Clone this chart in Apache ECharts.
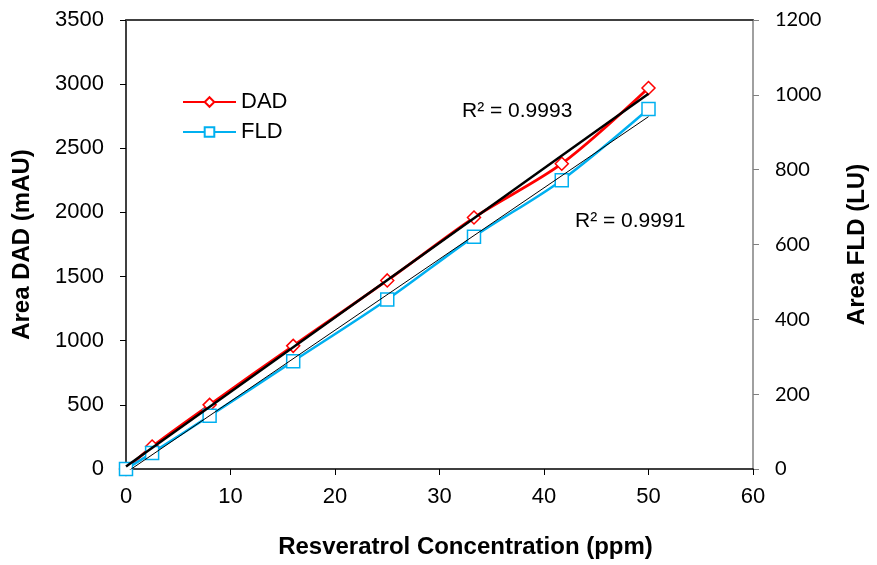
<!DOCTYPE html>
<html><head><meta charset="utf-8">
<script src="https://cdn.jsdelivr.net/npm/echarts@6/dist/echarts.min.js"></script>
<style>html,body{margin:0;padding:0;background:#fff}#c{width:877px;height:565px}</style>
</head><body><div id="c"></div>
<script>
const concentration = [0, 2.5, 8, 16, 25, 33.3, 41.7, 50];
const dadArea = [0, 175, 500, 960, 1470, 1960, 2380, 2970];
const fldArea = [0, 43, 142, 288, 453, 621, 772, 962];
const r2Labels = ['R\u00b2 = 0.9993', 'R\u00b2 = 0.9991'];
const xTicks = [0, 10, 20, 30, 40, 50, 60];

function fit(xs, ys) {
  const n = xs.length;
  const mx = xs.reduce((a, b) => a + b, 0) / n;
  const my = ys.reduce((a, b) => a + b, 0) / n;
  let sxy = 0, sxx = 0;
  for (let i = 0; i < n; i++) { sxy += (xs[i] - mx) * (ys[i] - my); sxx += (xs[i] - mx) ** 2; }
  const b = sxy / sxx, a = my - b * mx;
  const x0 = xs[0], x1 = xs[n - 1];
  return [[x0, a + b * x0], [x1, a + b * x1]];
}
const pair = (xs, ys) => xs.map((x, i) => [x, ys[i]]);
const plain = v => String(v);

const chart = echarts.init(document.getElementById('c'));
const axisFont = { fontFamily: 'Liberation Sans, Arial', fontSize: 22, color: '#000' };
const titleFont = { fontFamily: 'Liberation Sans, Arial', fontSize: 24, fontWeight: 'bold', color: '#000' };
chart.setOption({
  animation: false,
  grid: { left: 126, right: 123, top: 20, bottom: 96 },
  legend: {
    data: ['DAD', 'FLD'], orient: 'vertical', left: 177, top: 86,
    itemWidth: 53, itemHeight: 12, itemGap: 8,
    textStyle: { fontFamily: 'Liberation Sans, Arial', fontSize: 22, color: '#000' }
  },
  xAxis: [{
    type: 'value', min: xTicks[0], max: xTicks[xTicks.length - 1], interval: 10,
    name: 'Resveratrol Concentration (ppm)', nameLocation: 'middle', nameGap: 66,
    nameTextStyle: Object.assign({ padding: [0, 0, 0, 52] }, titleFont),
    axisLine: { onZero: false, lineStyle: { color: '#000', width: 1.5 } },
    axisTick: { lineStyle: { color: '#000' }, length: 6 },
    axisLabel: Object.assign({ margin: 17, formatter: plain }, axisFont),
    splitLine: { show: false }
  }, {
    type: 'value', position: 'top', min: 0, max: 60,
    axisLine: { show: true, onZero: false, lineStyle: { color: '#404040', width: 2 } },
    axisTick: { show: false }, axisLabel: { show: false }, splitLine: { show: false }
  }],
  yAxis: [{
    type: 'value', min: 0, max: 3500, interval: 500, position: 'left',
    name: 'Area DAD (mAU)', nameLocation: 'middle', nameGap: 92, nameRotate: 90,
    nameTextStyle: titleFont,
    axisLine: { show: true, onZero: false, lineStyle: { color: '#000', width: 1.5 } },
    axisTick: { show: true, lineStyle: { color: '#000' }, length: 6 },
    axisLabel: Object.assign({ margin: 22, formatter: plain }, axisFont),
    splitLine: { show: false }
  }, {
    type: 'value', min: 0, max: 1200, interval: 200, position: 'right',
    name: 'Area FLD (LU)', nameLocation: 'middle', nameGap: 92, nameRotate: 90,
    nameTextStyle: titleFont,
    axisLine: { show: true, onZero: false, lineStyle: { color: '#808080', width: 1.5 } },
    axisTick: { show: true, lineStyle: { color: '#808080' }, length: 6 },
    axisLabel: { margin: 22, formatter: plain, fontFamily: 'Lato, Carlito, Calibri, sans-serif', fontSize: 20, color: '#000' },
    splitLine: { show: false }
  }],
  graphic: [
    { type: 'text', left: 462, top: 101, style: { text: r2Labels[0], font: '21px "Liberation Sans", Arial', fill: '#000' } },
    { type: 'text', left: 575, top: 211, style: { text: r2Labels[1], font: '21px "Liberation Sans", Arial', fill: '#000' } }
  ],
  series: [
    {
      name: 'DAD trend', type: 'line', data: fit(concentration, dadArea), yAxisIndex: 0,
      showSymbol: false, silent: true, z: 3,
      lineStyle: { color: '#000', width: 2.5 }
    },
    {
      name: 'FLD trend', type: 'line', data: fit(concentration, fldArea), yAxisIndex: 1,
      showSymbol: false, silent: true, z: 3,
      lineStyle: { color: '#000', width: 1 }
    },
    {
      name: 'DAD', type: 'line', data: pair(concentration, dadArea), yAxisIndex: 0,
      smooth: 0.3, symbol: 'diamond', symbolSize: 13, z: 2,
      lineStyle: { color: '#FF0000', width: 2.8 },
      itemStyle: { color: '#fff', borderColor: '#FF0000', borderWidth: 1.5 }
    },
    {
      name: 'FLD', type: 'line', data: pair(concentration, fldArea), yAxisIndex: 1,
      smooth: 0.3, symbol: 'rect', symbolSize: 13, z: 2,
      lineStyle: { color: '#00B0F0', width: 2.5 },
      itemStyle: { color: '#fff', borderColor: '#00B0F0', borderWidth: 1.5 }
    }
  ]
});
</script></body></html>
